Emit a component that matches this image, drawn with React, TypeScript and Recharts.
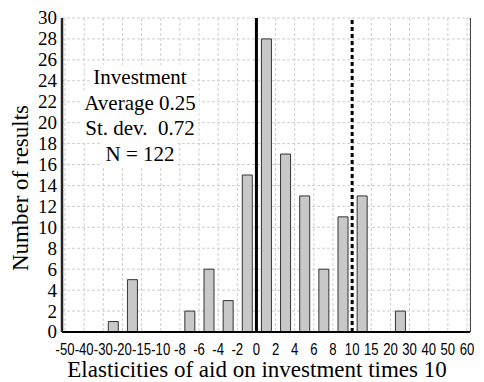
import { BarChart, Bar, XAxis, YAxis, CartesianGrid, ReferenceLine } from "recharts";

// bin edges, read left to right under the axis
const edgeLabels = [
  "-50", "-40", "-30", "-20", "-15", "-10", "-8", "-6", "-4", "-2", "0",
  "2", "4", "6", "8", "10", "15", "20", "30", "40", "50", "60",
];

// number of results in each bin (between two neighbouring edges)
const counts = [0, 0, 1, 5, 0, 0, 2, 6, 3, 15, 28, 17, 13, 6, 11, 13, 0, 2, 0, 0, 0];

const yTicks = [0, 2, 4, 6, 8, 10, 12, 14, 16, 18, 20, 22, 24, 26, 28, 30];

const boxLines = ["Investment", "Average 0.25", "St. dev.  0.72", "N = 122"];

const data = counts.map((c, i) => ({
  bin: `${edgeLabels[i]}..${edgeLabels[i + 1]}`,
  edge: i,
  count: c,
}));

const edgeTicks = edgeLabels.map((_, i) => i);
const serif = "'Liberation Serif', 'Times New Roman', serif";

const XTick = (props: any) => {
  const { x, y, payload } = props;
  return (
    <text
      transform={`translate(${x},${y + 23}) scale(0.82,1)`}
      textAnchor="middle"
      fontFamily="'Liberation Sans', Arial, sans-serif"
      fontSize={16}
      fill="#000"
    >
      {edgeLabels[payload.value]}
    </text>
  );
};

const YTick = (props: any) => {
  const { x, y, payload } = props;
  return (
    <text x={x - 5} y={y} dy="0.34em" textAnchor="end" fontFamily={serif} fontSize={19} fill="#000">
      {payload.value}
    </text>
  );
};

const yLabel = () => (
  <text x={28} y={188} transform="rotate(-90 28 188)" textAnchor="middle" fontFamily={serif} fontSize={23} fill="#000">
    Number of results
  </text>
);

const xLabel = () => (
  <text x={257} y={377} textAnchor="middle" fontFamily={serif} fontSize={23} fill="#000">
    Elasticities of aid on investment times 10
  </text>
);

export default function App() {
  return (
    <div style={{ position: "absolute", left: 0, top: 0, width: 484, height: 382, background: "#fff" }}>
      <BarChart width={484} height={382} data={data} margin={{ top: 18, right: 14, bottom: 0, left: 0 }}>
        <CartesianGrid xAxisId="edges" stroke="#cfcfcf" strokeDasharray="3 2" />
        <XAxis
          xAxisId="edges"
          dataKey="edge"
          type="number"
          domain={[0, edgeLabels.length - 1]}
          allowDataOverflow
          ticks={edgeTicks}
          interval={0}
          height={50}
          padding={{ left: 3, right: 3 }}
          tickLine={false}
          tickSize={0}
          tickMargin={0}
          tick={<XTick />}
          axisLine={{ stroke: "#000", strokeWidth: 2 }}
          label={xLabel}
        />
        <XAxis xAxisId="bins" dataKey="bin" hide height={0} padding={{ left: 3, right: 3 }} />
        <YAxis
          domain={[0, 30]}
          ticks={yTicks}
          interval={0}
          width={62}
          tickLine={false}
          tickSize={0}
          tickMargin={0}
          tick={<YTick />}
          axisLine={{ stroke: "#222", strokeWidth: 2.5 }}
          label={yLabel}
        />
        <Bar
          xAxisId="bins"
          dataKey="count"
          barSize={10}
          fill="#c8c8c8"
          stroke="#333"
          strokeWidth={1}
          isAnimationActive={false}
        />
        <ReferenceLine xAxisId="edges" x={edgeLabels.indexOf("0")} stroke="#000" strokeWidth={3} />
        <ReferenceLine xAxisId="edges" x={edgeLabels.indexOf("10")} stroke="#000" strokeWidth={3} strokeDasharray="4 3" />
      </BarChart>
      {/* right frame of the plot */}
      <div style={{ position: "absolute", left: 470, top: 18, width: 1, height: 314, background: "#444" }} />
      <div style={{ position: "absolute", left: 40, top: 65, width: 200, fontFamily: serif, fontSize: 21, lineHeight: "25.5px", color: "#000" }}>
        {boxLines.map((t) => (
          <div key={t} style={{ width: "fit-content", margin: "0 auto", background: "#fff", padding: "0 3px", whiteSpace: "pre" }}>
            {t}
          </div>
        ))}
      </div>
    </div>
  );
}
